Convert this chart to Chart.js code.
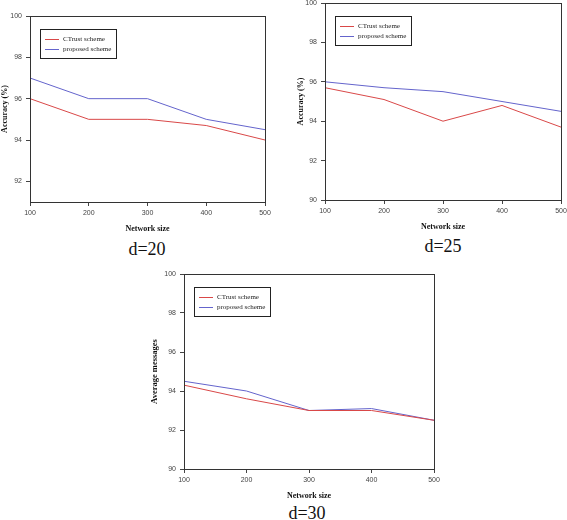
<!DOCTYPE html>
<html>
<head>
<meta charset="utf-8">
<script src="https://cdn.jsdelivr.net/npm/chart.js@4.4.1/dist/chart.umd.min.js"></script>
<style>
  html, body { margin: 0; padding: 0; background: #fff; }
  body { width: 567px; height: 520px; position: relative; overflow: hidden; }
  canvas { position: absolute; }
  .cap {
    position: absolute; width: 80px; margin-left: -40px; text-align: center;
    font-family: "Liberation Serif", serif; font-size: 18px; color: #111; line-height: 18px;
  }
</style>
</head>
<body>
<canvas id="c20" style="left:0px;top:0px;width:285px;height:236px"></canvas>
<canvas id="c25" style="left:290px;top:-10px;width:290px;height:244px"></canvas>
<canvas id="c30" style="left:145px;top:260px;width:309px;height:243px"></canvas>
<div class="cap" style="left:147px;top:240px">d=20</div>
<div class="cap" style="left:443px;top:237px">d=25</div>
<div class="cap" style="left:307px;top:504px">d=30</div>
<script>
const sizes = ["100", "200", "300", "400", "500"];
const seriesNames = ["CTrust scheme", "proposed scheme"];

const ctrust20 = [96, 95, 95, 94.7, 94];
const proposed20 = [97, 96, 96, 95, 94.5];

const ctrust25 = [95.7, 95.1, 94.0, 94.8, 93.7];
const proposed25 = [96, 95.7, 95.5, 95.0, 94.5];

const ctrust30 = [94.3, 93.6, 93.0, 93.0, 92.5];
const proposed30 = [94.5, 94.0, 93.0, 93.1, 92.5];

const yTicks20 = [92, 94, 96, 98, 100];
const yTicks = [90, 92, 94, 96, 98, 100];

const RED = "#d94848";
const BLUE = "#6464cc";

// box around the plot area plus the boxed legend in the upper left
const frameLegend = {
  id: "frameLegend",
  afterDatasetsDraw(chart) {
    const { ctx, chartArea: a } = chart;
    ctx.save();
    ctx.strokeStyle = "#333";
    ctx.lineWidth = 1;
    ctx.strokeRect(Math.round(a.left) + 0.5, Math.round(a.top) + 0.5,
      Math.round(a.width), Math.round(a.height));

    const bx = Math.round(a.left) + 10, by = Math.round(a.top) + 13;
    ctx.font = '7px "Liberation Serif"';
    const w = 22 + Math.max(...chart.data.datasets.map(d => ctx.measureText(d.label).width)) + 6;
    ctx.strokeStyle = "#222";
    ctx.strokeRect(bx + 0.5, by + 0.5, Math.round(w), 29);
    chart.data.datasets.forEach((ds, i) => {
      const y = by + 10 + i * 10;
      ctx.strokeStyle = ds.borderColor;
      ctx.beginPath();
      ctx.moveTo(bx + 5, y + 0.5);
      ctx.lineTo(bx + 19, y + 0.5);
      ctx.stroke();
      ctx.fillStyle = "#222";
      ctx.textBaseline = "middle";
      ctx.fillText(ds.label, bx + 23, y + 0.5);
    });
    ctx.restore();
  }
};

function makeChart(id, ctrust, proposed, opts) {
  const el = document.getElementById(id);
  return new Chart(el.getContext("2d"), {
    type: "line",
    data: {
      labels: sizes,
      datasets: [
        { label: seriesNames[0], data: ctrust, borderColor: RED, borderWidth: 1, pointRadius: 0, tension: 0 },
        { label: seriesNames[1], data: proposed, borderColor: BLUE, borderWidth: 1, pointRadius: 0, tension: 0 }
      ]
    },
    options: {
      responsive: false,
      animation: false,
      layout: { padding: { top: opts.padTop, right: opts.padRight, left: opts.padLeft, bottom: 0 } },
      plugins: { legend: { display: false }, tooltip: { enabled: false } },
      scales: {
        x: {
          type: "category",
          offset: false,
          border: { display: false },
          grid: { drawOnChartArea: false, drawTicks: true, tickLength: 4, color: "#444" },
          ticks: { color: "#444", padding: 3, maxRotation: 0, font: { family: "Liberation Sans", size: 7 } },
          title: {
            display: true, text: "Network size", color: "#111",
            padding: { top: 0, bottom: 2 },
            font: { family: "Liberation Serif", size: 8, weight: "bold" }
          },
          afterFit(scale) { scale.height = 34; }
        },
        y: {
          min: opts.yMin,
          max: 100,
          border: { display: false },
          grid: { drawOnChartArea: false, drawTicks: true, tickLength: 4, color: "#444" },
          ticks: { color: "#444", padding: 4, font: { family: "Liberation Sans", size: 7 } },
          afterBuildTicks(scale) { scale.ticks = opts.ticks.map(v => ({ value: v })); },
          title: {
            display: true, text: opts.yTitle, color: "#111",
            padding: { top: 0, bottom: 0 },
            font: { family: "Liberation Serif", size: opts.yTitleSize, weight: "bold" }
          },
          afterFit(scale) { scale.width = opts.yWidth; }
        }
      }
    },
    plugins: [frameLegend]
  });
}

makeChart("c20", ctrust20, proposed20, {
  yMin: 91, ticks: yTicks20, yTitle: "Accuracy (%)", yTitleSize: 8,
  padTop: 16, padRight: 20, padLeft: 0, yWidth: 30
});
makeChart("c25", ctrust25, proposed25, {
  yMin: 90, ticks: yTicks, yTitle: "Accuracy (%)", yTitleSize: 8,
  padTop: 13, padRight: 19, padLeft: 6, yWidth: 29
});
makeChart("c30", ctrust30, proposed30, {
  yMin: 90, ticks: yTicks, yTitle: "Average messages", yTitleSize: 8.5,
  padTop: 14, padRight: 20, padLeft: 5, yWidth: 34
});
</script>
</body>
</html>
